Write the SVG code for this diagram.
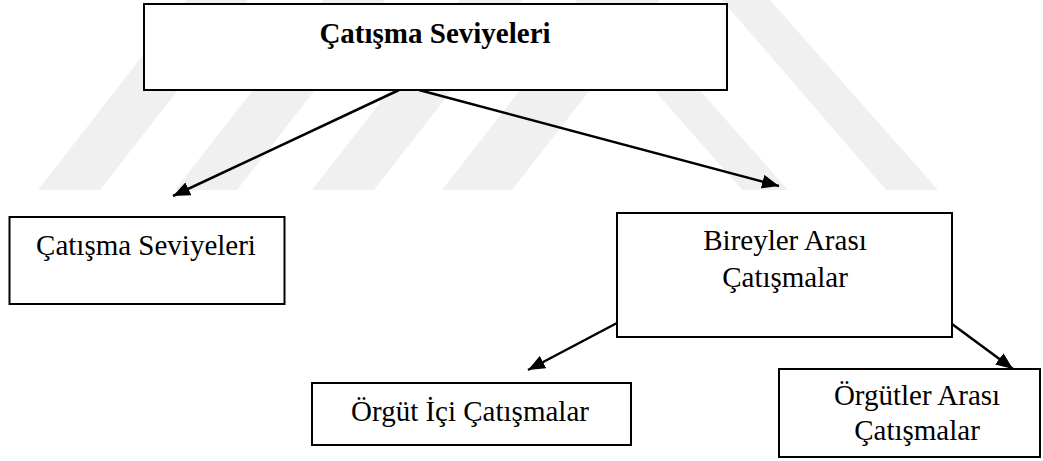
<svg xmlns="http://www.w3.org/2000/svg" width="1043" height="461" viewBox="0 0 1043 461">
<defs>
<style>
.box{fill:#fff;stroke:#000;stroke-width:2}
.t{font-family:"Liberation Serif","Times New Roman",serif;font-size:29px;fill:#000;text-anchor:middle}
.b{font-weight:bold}
.wm{fill:#f0f0f0}
.con{stroke:#000;stroke-width:2.5;fill:none;marker-end:url(#ah)}
</style>
<marker id="ah" viewBox="0 0 17 14" refX="17" refY="7" markerWidth="17" markerHeight="14" markerUnits="userSpaceOnUse" orient="auto">
<path d="M0,0 L17,7 L0,14 z" fill="#000"/>
</marker>
</defs>
<rect width="1043" height="461" fill="#fff"/>
<g id="watermark">
<polygon class="wm" points="38,190 100,190 248,0 186,0"/>
<polygon class="wm" points="175,190 237,190 385,0 323,0"/>
<polygon class="wm" points="312,190 374,190 522,0 460,0"/>
<polygon class="wm" points="442,190 512,190 660,0 590,0"/>
<polygon class="wm" points="575,0 620,0 788,190 742,190"/>
<polygon class="wm" points="722,0 770,0 938,190 886,190"/>
</g>
<g id="connectors">
<line class="con" x1="399" y1="90" x2="173" y2="196"/>
<line class="con" x1="419" y1="90" x2="779" y2="186"/>
<line class="con" x1="617" y1="323" x2="528" y2="370"/>
<line class="con" x1="952" y1="324" x2="1013" y2="369"/>
</g>
<g id="node-top">
<rect class="box" x="144" y="4" width="583" height="86"/>
<text class="t b" x="435" y="43">Çatışma Seviyeleri</text>
</g>
<g id="node-left">
<rect class="box" x="9.5" y="217" width="275" height="87"/>
<text class="t" x="146" y="255">Çatışma Seviyeleri</text>
</g>
<g id="node-bireyler">
<rect class="box" x="617" y="213" width="335" height="124"/>
<text class="t" x="785" y="250">Bireyler Arası</text>
<text class="t" x="785" y="287">Çatışmalar</text>
</g>
<g id="node-orgut-ici">
<rect class="box" x="312" y="383" width="319" height="62"/>
<text class="t" x="470" y="421">Örgüt İçi Çatışmalar</text>
</g>
<g id="node-orgutler-arasi">
<rect class="box" x="779" y="369" width="261" height="88"/>
<text class="t" x="917" y="405">Örgütler Arası</text>
<text class="t" x="917" y="440">Çatışmalar</text>
</g>
</svg>
